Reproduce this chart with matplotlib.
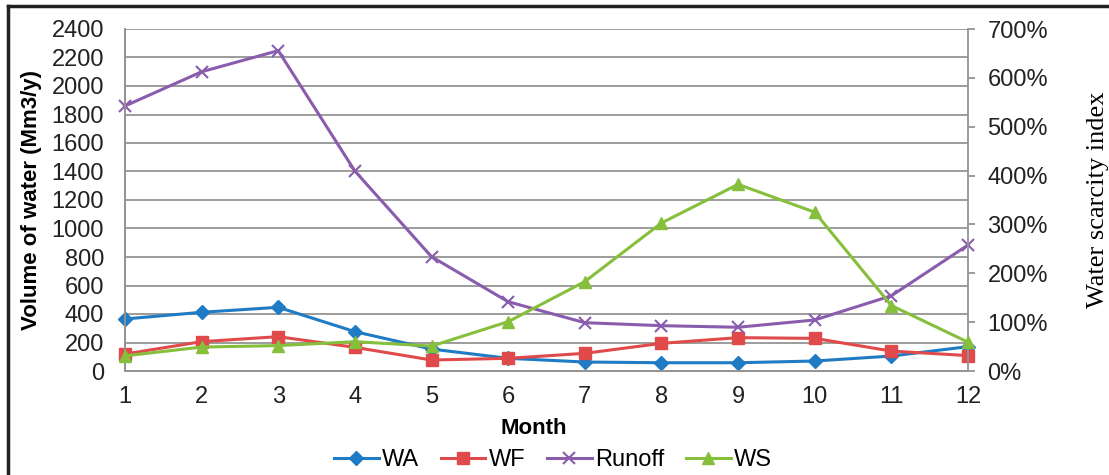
import matplotlib.pyplot as plt
from matplotlib.lines import Line2D
from matplotlib.ticker import FuncFormatter, MultipleLocator

# monthly values
months = [1, 2, 3, 4, 5, 6, 7, 8, 9, 10, 11, 12]
wa = [365, 412, 447, 276, 154, 89, 63, 58, 58, 70, 105, 171]
wf = [119, 206, 241, 166, 77, 89, 124, 194, 234, 229, 140, 108]
runoff = [1860, 2100, 2248, 1403, 802, 486, 339, 318, 307, 358, 528, 884]
ws = [31, 49, 52, 60, 51, 101, 183, 303, 382, 325, 134, 59]  # percent

c_wa = '#1f7bc4'
c_wf = '#e04a4a'
c_runoff = '#8a5cad'
c_ws = '#86bf3c'

plt.rcParams['font.family'] = ['Liberation Sans', 'DejaVu Sans']

fig = plt.figure(figsize=(11.09, 4.75), dpi=100)
ax = fig.add_axes([125 / 1109, 1 - 371 / 475, (968 - 125) / 1109, (371 - 29) / 475])
ax2 = ax.twinx()

ax.set_xlim(1, 12)
ax.set_ylim(0, 2400)
ax2.set_ylim(0, 700)

ax.yaxis.set_major_locator(MultipleLocator(200))
ax.grid(axis='y', color='#949494', linewidth=1.3)
ax.set_axisbelow(True)
ax.set_xticks(months)
ax.tick_params(axis='y', length=0, labelsize=17, colors='#222222', pad=15)
ax.tick_params(axis='x', length=0, labelsize=17, colors='#222222', pad=11)

ax2.yaxis.set_major_locator(MultipleLocator(100))
ax2.yaxis.set_major_formatter(FuncFormatter(lambda v, p: '%d%%' % v))
ax2.tick_params(axis='y', length=5, width=1.3, color='#949494', labelsize=17,
                labelcolor='#222222', pad=9)

for a in (ax, ax2):
    a.spines['top'].set_visible(False)
    for s in ('left', 'bottom', 'right'):
        a.spines[s].set_color('#949494')
        a.spines[s].set_linewidth(1.3)
ax.spines['right'].set_visible(False)

ms = 7
ax.plot(months, wa, color=c_wa, lw=2.2, marker='D', ms=ms, clip_on=False, zorder=3)
ax.plot(months, wf, color=c_wf, lw=2.2, marker='s', ms=ms + 1, clip_on=False, zorder=3)
ax.plot(months, runoff, color=c_runoff, lw=2.2, marker='x', ms=ms + 1, mew=1.5, clip_on=False, zorder=3)
ax2.plot(months, ws, color=c_ws, lw=2.2, marker='^', ms=ms + 1, clip_on=False, zorder=3)

ax.set_ylabel('Volume of water (Mm3/y)', fontsize=16, fontweight='bold', labelpad=7)
ax2.set_ylabel('Water scarcity index', fontsize=19, family=['Liberation Serif', 'DejaVu Serif'],
               labelpad=28)

fig.text(534 / 1109, 1 - 429 / 475, 'Month', ha='center', va='center', fontsize=16, fontweight='bold')

handles = [
    Line2D([], [], color=c_wa, lw=2.2, marker='D', ms=ms),
    Line2D([], [], color=c_wf, lw=2.2, marker='s', ms=ms + 1),
    Line2D([], [], color=c_runoff, lw=2.2, marker='x', ms=ms + 1, mew=1.5),
    Line2D([], [], color=c_ws, lw=2.2, marker='^', ms=ms + 1),
]
fig.legend(handles, ['WA', 'WF', 'Runoff', 'WS'], loc='center', ncol=4,
           bbox_to_anchor=(553 / 1109, 1 - 460 / 475), frameon=False, fontsize=17,
           handlelength=1.9, handletextpad=0.15, columnspacing=0.9)

# outer frame (left and top edges)
fig.add_artist(Line2D([8 / 1109, 8 / 1109], [0, 1 - 6 / 475], color='#222222', lw=2.5))
fig.add_artist(Line2D([8 / 1109, 1107 / 1109], [1 - 6 / 475, 1 - 6 / 475], color='#222222', lw=2.5))

fig.savefig('out.png', dpi=100)
